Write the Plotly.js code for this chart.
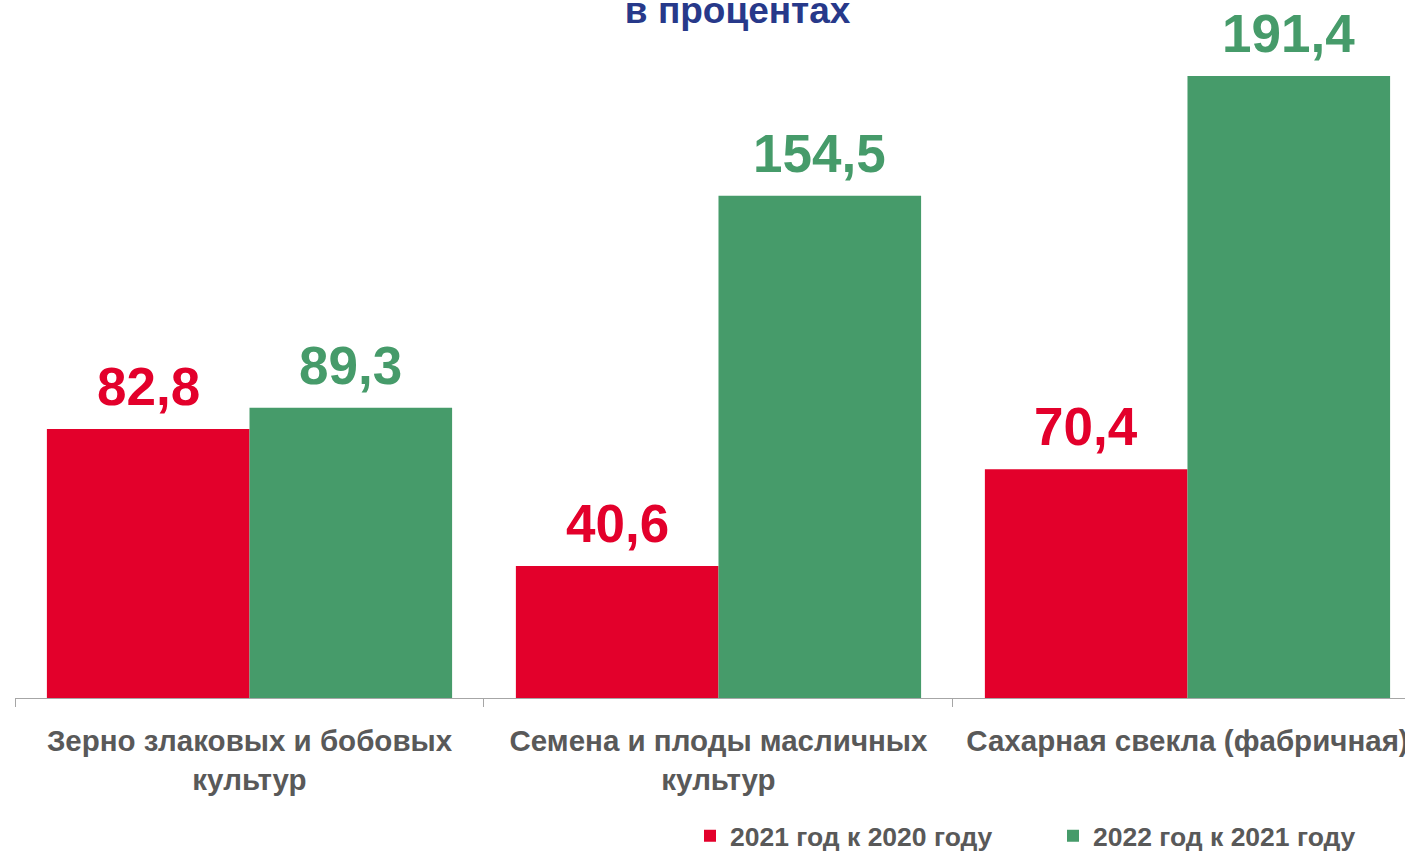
<!DOCTYPE html>
<html>
<head>
<meta charset="utf-8">
<script src="https://cdn.plot.ly/plotly-3.0.1.min.js"></script>
<style>html,body{margin:0;padding:0;background:#fff;}#chart{width:1405px;height:852px;}</style>
</head>
<body>
<div id="chart"></div>
<script>
const categories = ["Зерно злаковых и бобовых<br>культур", "Семена и плоды масличных<br>культур", "Сахарная свекла (фабричная)"];
const series2021 = [82.8, 40.6, 70.4];
const series2022 = [89.3, 154.5, 191.4];
const seriesNames = ["2021 год к 2020 году", "2022 год к 2021 году"];
const titleText = "<b>в процентах</b>";

const RED = "#E3002B", GREEN = "#469B6A", GRAY = "#595959";
const FONT = "Liberation Sans, Arial, sans-serif";

const mk = (vals, name, color) => ({
  type: "bar", x: categories, y: vals, name: name,
  marker: {color: color}, hoverinfo: "none"
});

const data = [mk(series2021, seriesNames[0], RED), mk(series2022, seriesNames[1], GREEN)];

const fmt = v => v.toFixed(1).replace(".", ",");
const annotations = [];
[[series2021, RED, -101], [series2022, GREEN, 101]].forEach(([vals, color, dx]) => {
  vals.forEach((v, i) => annotations.push({
    x: categories[i], y: v, xref: "x", yref: "y", text: "<b>" + fmt(v) + "</b>",
    showarrow: false, xanchor: "center", yanchor: "bottom", xshift: dx, yshift: 11,
    font: {family: FONT, size: 53, color: color}
  }));
});

const layout = {
  width: 1405, height: 852,
  margin: {l: 15, r: 0, t: 40, b: 154, autoexpand: false},
  paper_bgcolor: "#fff", plot_bgcolor: "#fff",
  barmode: "group", bargap: 0.136, bargroupgap: 0,
  font: {family: FONT},
  annotations: annotations,
  title: {text: titleText, font: {family: FONT, size: 37, color: "#27398A"},
          x: 0.525, xanchor: "center", xref: "container", yref: "container", y: 0.988, yanchor: "middle"},
  xaxis: {
    type: "category", range: [-0.5, 2.4638], fixedrange: true,
    showline: true, linecolor: "#A6A6A6", linewidth: 1,
    ticks: "outside", tickson: "boundaries", ticklen: 8, tickcolor: "#A6A6A6", tickwidth: 1,
    tickfont: {family: FONT, size: 29.5, color: GRAY, weight: "bold"}, automargin: false, tickangle: 0,
    ticklabelstandoff: 17
  },
  yaxis: {range: [0, 202.46], visible: false, fixedrange: true},
  showlegend: true,
  legend: {
    orientation: "h", x: 0.4856, xanchor: "left", y: -0.1733, yanchor: "top",
    font: {family: FONT, size: 26.5, color: GRAY, weight: "bold"},
    entrywidth: 318, entrywidthmode: "pixels", itemwidth: 30
  }
};

Plotly.newPlot("chart", data, layout, {staticPlot: true, displayModeBar: false});
</script>
</body>
</html>
